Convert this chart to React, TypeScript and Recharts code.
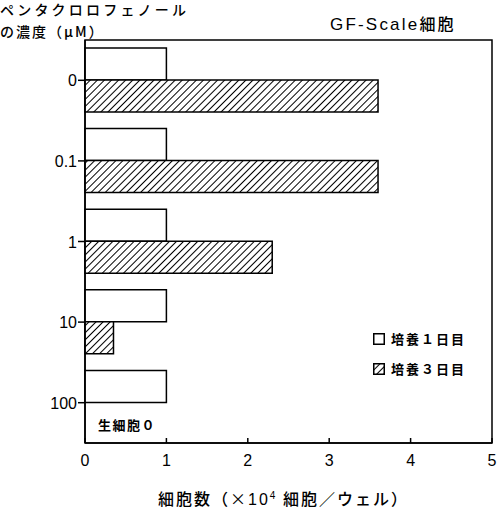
import React from "react";
import { BarChart, Bar, XAxis, YAxis, ReferenceArea } from "recharts";

const concentrations = ["0", "0.1", "1", "10", "100"];
const day1Counts = [1, 1, 1, 1, 1];
const day3Counts = [3.6, 3.6, 2.3, 0.35, 0];
const xTicks = [0, 1, 2, 3, 4, 5];

const data = concentrations.map((c, i) => ({ conc: c, day1: day1Counts[i], day3: day3Counts[i] }));

const digitFont = "'Liberation Sans', Arial, sans-serif";
const jpFont = "'Noto Sans CJK JP', 'Noto Sans', sans-serif";
const mixedFont = "'Liberation Sans', 'Noto Sans CJK JP', sans-serif";

function XTick(props: any) {
  const { x, y, payload } = props;
  return (
    <g>
      <line x1={x} y1={y} x2={x} y2={y - 5} stroke="#000" strokeWidth={1.5} />
      <text x={x} y={y + 23} textAnchor="middle" fontFamily={digitFont} fontSize={16} fill="#000">
        {payload.value}
      </text>
    </g>
  );
}

function YTick(props: any) {
  const { x, y, payload } = props;
  return (
    <text x={x + 1} y={y + 6} textAnchor="end" fontFamily={digitFont} fontSize={16} fill="#000">
      {payload.value}
    </text>
  );
}

const textStyle: React.CSSProperties = {
  position: "absolute",
  fontFamily: jpFont,
  color: "#000",
  whiteSpace: "nowrap",
  lineHeight: 1,
};

export default function App() {
  return (
    <div style={{ position: "absolute", left: 0, top: 0, width: 500, height: 515, background: "#fff" }}>
      <svg width={0} height={0} style={{ position: "absolute" }}>
        <defs>
          <pattern id="hatch" patternUnits="userSpaceOnUse" width={5} height={5} patternTransform="rotate(45)">
            <rect width={5} height={5} fill="#fff" />
            <line x1={0} y1={0} x2={0} y2={5} stroke="#000" strokeWidth={2} />
          </pattern>
        </defs>
      </svg>
      <BarChart
        width={500}
        height={515}
        data={data}
        layout="vertical"
        margin={{ top: 40, right: 8, left: 5, bottom: 42 }}
        barSize={32}
        barGap={0}
      >
        <XAxis
          type="number"
          domain={[0, 5]}
          ticks={xTicks}
          tickSize={0}
          tickMargin={0}
          tickLine={false}
          axisLine={{ stroke: "#000", strokeWidth: 1.5 }}
          tick={<XTick />}
          height={30}
        />
        <YAxis
          type="category"
          dataKey="conc"
          width={80}
          tickSize={7}
          tickMargin={2}
          tickLine={{ stroke: "#000", strokeWidth: 1.5 }}
          axisLine={{ stroke: "#000", strokeWidth: 1.5 }}
          tick={<YTick />}
        />
        <ReferenceArea x1={0} x2={5} fill="none" stroke="#000" strokeWidth={1.5} ifOverflow="visible" />
        <Bar dataKey="day1" fill="#fff" stroke="#000" strokeWidth={1.5} isAnimationActive={false} />
        <Bar dataKey="day3" fill="url(#hatch)" stroke="#000" strokeWidth={1.5} isAnimationActive={false} />
      </BarChart>

      <div style={{ ...textStyle, left: 0, top: 2, fontSize: 14, letterSpacing: 3.2, fontWeight: 500 }}>
        ペンタクロロフェノール
      </div>
      <div style={{ ...textStyle, left: 0, top: 24, fontSize: 14, letterSpacing: 2, fontWeight: 500 }}>
        の濃度（μM）
      </div>
      <div style={{ ...textStyle, fontFamily: mixedFont, left: 330, top: 15, fontSize: 17, letterSpacing: 2.2 }}>
        GF-Scale<span style={{ fontFamily: jpFont, fontWeight: 500, fontSize: 16 }}>細胞</span>
      </div>
      <div style={{ ...textStyle, left: 158, top: 490, fontSize: 16, letterSpacing: 2, fontWeight: 500 }}>
        細胞数（<span style={{ fontWeight: 400 }}>×</span>
        <span style={{ fontFamily: digitFont, fontWeight: 400 }}>10</span>
        <sup style={{ fontSize: 10, fontFamily: digitFont }}>4</sup> 細胞／ウェル）
      </div>
      <div style={{ ...textStyle, left: 98, top: 418, fontSize: 13, letterSpacing: 1.5, fontWeight: 700 }}>
        生細胞０
      </div>

      <div style={{ ...textStyle, left: 373, top: 332, fontSize: 13, letterSpacing: 2, fontWeight: 700, display: "flex", alignItems: "center" }}>
        <svg width={12} height={12} style={{ marginRight: 6 }}>
          <rect x={0.75} y={0.75} width={10.5} height={10.5} fill="#fff" stroke="#000" strokeWidth={1.5} />
        </svg>
        培養１日目
      </div>
      <div style={{ ...textStyle, left: 373, top: 362, fontSize: 13, letterSpacing: 2, fontWeight: 700, display: "flex", alignItems: "center" }}>
        <svg width={12} height={12} style={{ marginRight: 6 }}>
          <rect x={0.75} y={0.75} width={10.5} height={10.5} fill="url(#hatch)" stroke="#000" strokeWidth={1.5} />
        </svg>
        培養３日目
      </div>
    </div>
  );
}
